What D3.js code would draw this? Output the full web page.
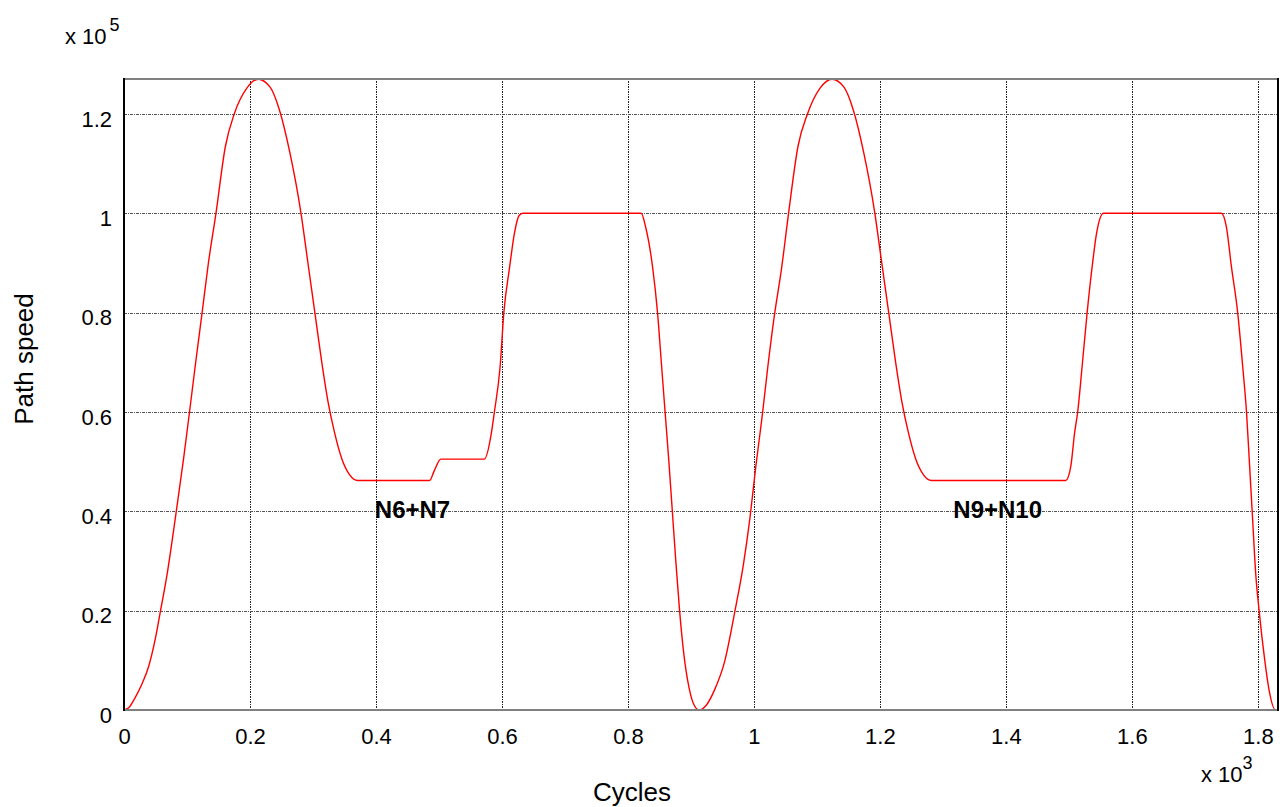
<!DOCTYPE html>
<html>
<head>
<meta charset="utf-8">
<script src="https://cdn.jsdelivr.net/npm/d3@7"></script>
<style>
  html, body { margin: 0; padding: 0; background: #fff; }
  svg { display: block; font-family: "Liberation Sans", Arial, sans-serif; }
</style>
</head>
<body>
<svg id="chart" width="1283" height="807"></svg>
<script>
// ---- data (cycles, path speed) ----
const cycles = [
  0, 8, 16, 29, 39, 50, 58, 68, 83, 95, 104, 113, 124, 134, 146, 161, 175, 195, 213, 232,
  247, 263, 281, 292, 303, 314, 324, 334, 346, 358, 371,
  485, 493, 503, 572, 583, 588, 597, 603, 612, 620, 627, 633,
  821, 828, 839, 847, 853, 859, 865, 870.5, 876, 882, 889, 897, 905, 913,
  924, 937, 954, 970, 983, 994, 1003, 1013, 1022, 1032, 1044, 1055,
  1070, 1085, 1105, 1124, 1143, 1158, 1174, 1192, 1203, 1214, 1225, 1235, 1245, 1257, 1269, 1282,
  1495, 1503, 1509, 1514, 1521, 1529, 1537, 1544, 1555,
  1742, 1750, 1758, 1768, 1776, 1782, 1787, 1791, 1797, 1802, 1811, 1818, 1828, 1832
];
const speed = [ // x 1e5
  0, 0.005, 0.021, 0.054, 0.087, 0.145, 0.2, 0.27, 0.4, 0.51, 0.6, 0.692, 0.8, 0.9, 1.0, 1.135, 1.2, 1.252, 1.27, 1.254,
  1.207, 1.124, 1.0, 0.9, 0.8, 0.7, 0.62, 0.56, 0.505, 0.474, 0.462,
  0.462, 0.483, 0.505, 0.505, 0.556, 0.6, 0.69, 0.8, 0.89, 0.961, 0.995, 1.0,
  1.0, 0.973, 0.893, 0.8, 0.7, 0.6, 0.5, 0.4, 0.3, 0.2, 0.11, 0.045, 0.01, 0,
  0.009, 0.039, 0.1, 0.2, 0.29, 0.39, 0.49, 0.59, 0.69, 0.79, 0.89, 1.0,
  1.135, 1.2, 1.252, 1.27, 1.254, 1.207, 1.124, 1.0, 0.9, 0.8, 0.7, 0.62, 0.56, 0.505, 0.474, 0.462,
  0.462, 0.49, 0.557, 0.6, 0.691, 0.8, 0.893, 0.96, 1.0,
  1.0, 0.973, 0.893, 0.8, 0.691, 0.6, 0.49, 0.4, 0.268, 0.2, 0.1, 0.039, 0, 0
];
const xTicks = [0, 200, 400, 600, 800, 1000, 1200, 1400, 1600, 1800];
const yTicks = [0, 20000, 40000, 60000, 80000, 100000, 120000];
const annotations = [
  { label: "N6+N7", x: 458, y: 40000 },
  { label: "N9+N10", x: 1387, y: 40000 }
];

const data = cycles.map((c, i) => ({ x: c, y: speed[i] * 1e5 }));

// ---- layout ----
const L = 124, R = 1278, T = 79, B = 710;
const svg = d3.select("#chart");

const x = d3.scaleLinear().domain([0, 1832]).range([L, R]);
const y = d3.scaleLinear().domain([0, 127040]).range([B, T]);

const fmtX = v => d3.format("~g")(v / 1000);
const fmtY = v => d3.format("~g")(v / 100000);

// grid
const grid = svg.append("g");
grid.selectAll("line.v").data(xTicks.filter(d => d > 0)).join("line")
  .attr("x1", d => Math.round(x(d)) + 0.5).attr("x2", d => Math.round(x(d)) + 0.5)
  .attr("y1", T).attr("y2", B)
  .attr("stroke", "#222").attr("stroke-width", 1).attr("stroke-dasharray", "1,1,2,1");
grid.selectAll("line.h").data(yTicks.filter(d => d > 0)).join("line")
  .attr("x1", L).attr("x2", R)
  .attr("y1", d => Math.round(y(d)) + 0.5).attr("y2", d => Math.round(y(d)) + 0.5)
  .attr("stroke", "#555").attr("stroke-width", 1).attr("stroke-dasharray", "3,1,1,1");

// axes with d3 (labels only)
const xAxis = d3.axisBottom(x).tickValues(xTicks).tickFormat(fmtX).tickSize(0).tickPadding(18);
const yAxis = d3.axisLeft(y).tickValues(yTicks).tickFormat(fmtY).tickSize(0).tickPadding(12);

const gx = svg.append("g").attr("transform", `translate(0,${B})`).call(xAxis);
gx.select(".domain").remove();
gx.selectAll("text").attr("font-size", 22).attr("fill", "#000")
  .attr("font-family", "Liberation Sans, Arial, sans-serif");

const gy = svg.append("g").attr("transform", `translate(${L},0)`).call(yAxis);
gy.select(".domain").remove();
gy.selectAll("text").attr("font-size", 22).attr("fill", "#000").attr("dy", "0.55em")
  .attr("font-family", "Liberation Sans, Arial, sans-serif");

// data line
const line = d3.line().x(d => x(d.x)).y(d => y(d.y)).curve(d3.curveMonotoneX);
svg.append("path").datum(data)
  .attr("d", line).attr("fill", "none")
  .attr("stroke", "#ff0000").attr("stroke-width", 1.4);

// frame
svg.append("line").attr("x1", L).attr("x2", R).attr("y1", T).attr("y2", T)
  .attr("stroke", "#808080").attr("stroke-width", 2);
svg.append("line").attr("x1", L).attr("x2", R).attr("y1", B).attr("y2", B)
  .attr("stroke", "#808080").attr("stroke-width", 2);
svg.append("line").attr("x1", L).attr("x2", L).attr("y1", T - 1).attr("y2", B + 1)
  .attr("stroke", "#000").attr("stroke-width", 2);
svg.append("line").attr("x1", R).attr("x2", R).attr("y1", T - 1).attr("y2", B + 1)
  .attr("stroke", "#000").attr("stroke-width", 2);

// annotations
svg.selectAll("text.ann").data(annotations).join("text")
  .attr("class", "ann")
  .attr("x", d => x(d.x)).attr("y", d => y(d.y) + 7)
  .attr("text-anchor", "middle")
  .attr("font-size", 24).attr("font-weight", "bold").attr("fill", "#000")
  .text(d => d.label);

// exponent labels
const expY = svg.append("text").attr("x", 65).attr("y", 44).attr("font-size", 22).attr("fill", "#000");
expY.append("tspan").text("x 10");
expY.append("tspan").attr("dx", 3).attr("dy", -13).attr("font-size", 18).text("5");

const expX = svg.append("text").attr("x", 1201).attr("y", 782).attr("font-size", 22).attr("fill", "#000");
expX.append("tspan").text("x 10");
expX.append("tspan").attr("dx", 0).attr("dy", -13).attr("font-size", 18).text("3");

// axis titles
svg.append("text").attr("x", 632).attr("y", 801).attr("text-anchor", "middle")
  .attr("font-size", 26).attr("fill", "#000").text("Cycles");
svg.append("text").attr("transform", "translate(33,359) rotate(-90)")
  .attr("text-anchor", "middle").attr("font-size", 26).attr("fill", "#000").text("Path speed");
</script>
</body>
</html>
